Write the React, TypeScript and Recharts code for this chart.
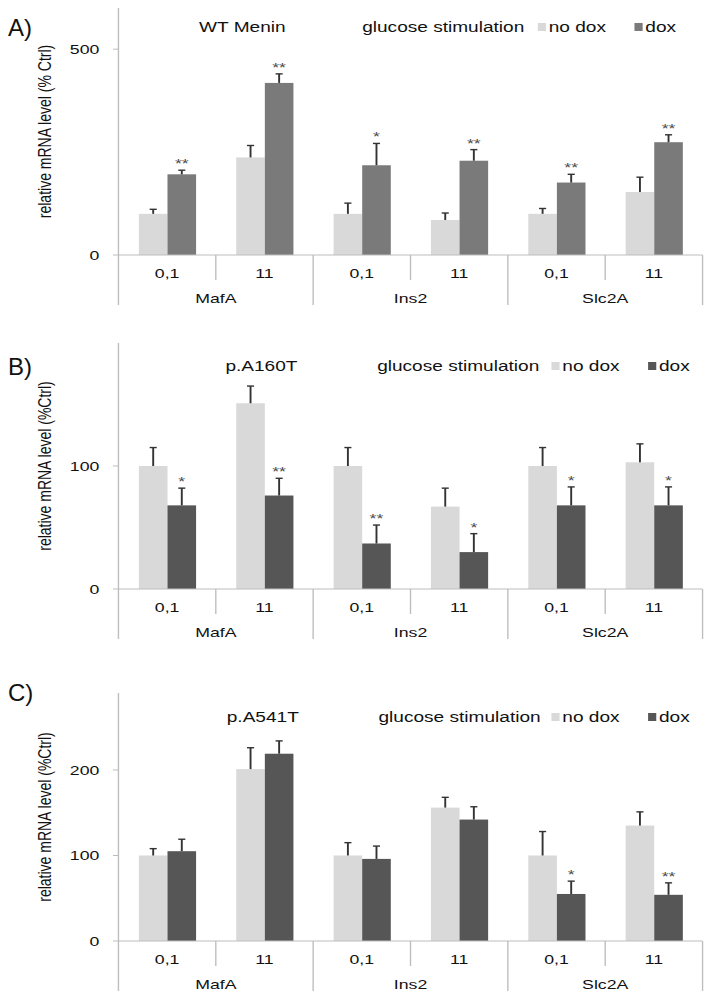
import React from "react";
import { Bar, BarChart, XAxis, YAxis } from "recharts";

// x-axis categories (two levels)
const subLabels = ["0,1", "11", "0,1", "11", "0,1", "11"];
const geneLabels = ["MafA", "Ins2", "Slc2A"];

// A) WT Menin
const noDoxA = [100, 237, 100, 85, 100, 153];
const noDoxErrA = [11, 29, 26, 17, 13, 36];
const doxA = [196, 418, 218, 229, 176, 274];
const doxErrA = [10, 22, 53, 27, 20, 18];
const starsA = ["**", "**", "*", "**", "**", "**"];

// B) p.A160T
const noDoxB = [100, 151, 100, 67, 100, 103];
const noDoxErrB = [15, 14, 15, 15, 15, 15];
const doxB = [68, 76, 37, 30, 68, 68];
const doxErrB = [14, 14, 15, 15, 15, 15];
const starsB = ["*", "**", "**", "*", "*", "*"];

// C) p.A541T
const noDoxC = [100, 201, 100, 156, 100, 135];
const noDoxErrC = [8, 25, 15, 12, 28, 16];
const doxC = [105, 219, 96, 142, 55, 54];
const doxErrC = [14, 15, 15, 15, 15, 14];
const starsC = ["", "", "", "", "*", "**"];

const FONT = "'Liberation Sans', Arial, sans-serif";
const AXIS = "#bdbdbd";
const NO_DOX = "#d9d9d9";

// the original figure is stretched horizontally; draw narrow, then scale
const CHART_W = 520;
const STRETCH = 708 / CHART_W;
const Y_AXIS_W = 87;
const RIGHT = 4;
const BAND = (CHART_W - Y_AXIS_W - RIGHT) / subLabels.length;

const buildRows = (
  noDox: number[],
  noDoxErr: number[],
  dox: number[],
  doxErr: number[],
  stars: string[]
) =>
  subLabels.map((s, i) => ({
    id: i,
    sub: s,
    noDox: noDox[i],
    noDoxErr: noDoxErr[i],
    dox: dox[i],
    doxErr: doxErr[i],
    stars: stars[i],
  }));

// bar with a plus-only error bar and significance stars
const barShape = (valueKey: string, errKey: string, starKey?: string) => (props: any) => {
  const { x, y, width, height, fill, payload } = props;
  const v = payload[valueKey];
  const ppu = v ? height / v : 0;
  const cx = x + width / 2;
  const top = y - payload[errKey] * ppu;
  const star = starKey ? payload[starKey] : "";
  return (
    <g>
      <rect x={x} y={y} width={width} height={height} fill={fill} />
      <line x1={cx} x2={cx} y1={y} y2={top} stroke="#333" strokeWidth={1.4} />
      <line x1={cx - 2.6} x2={cx + 2.6} y1={top} y2={top} stroke="#333" strokeWidth={1.4} />
      {star && (
        <text x={cx} y={top - 2} textAnchor="middle" fontSize={13} fill="#4a4a4a" fontFamily={FONT}>
          {star}
        </text>
      )}
    </g>
  );
};

const CategoryTick = (props: any) => {
  const { x, y, index } = props;
  const half = BAND / 2;
  const endOfGroup = index % 2 === 1;
  return (
    <g>
      <text x={x} y={y + 18} textAnchor="middle" dominantBaseline="central" fontSize={13} fill="#111" fontFamily={FONT}>
        {subLabels[index]}
      </text>
      <line x1={x + half} x2={x + half} y1={y} y2={y + (endOfGroup ? 50 : 25)} stroke={AXIS} />
      {index === 0 && <line x1={x - half} x2={x - half} y1={y} y2={y + 50} stroke={AXIS} />}
      {endOfGroup && (
        <text x={x - half} y={y + 43} textAnchor="middle" dominantBaseline="central" fontSize={13} fill="#111" fontFamily={FONT}>
          {geneLabels[(index - 1) / 2]}
        </text>
      )}
    </g>
  );
};

const yTitle = (text: string) => (props: any) => {
  const { viewBox } = props;
  const cx = viewBox.x + 33;
  const cy = viewBox.y + viewBox.height / 2;
  return (
    <text
      x={cx}
      y={cy}
      transform={`rotate(-90, ${cx}, ${cy})`}
      textAnchor="middle"
      dominantBaseline="central"
      fontSize={14}
      fill="#111"
      fontFamily={FONT}
    >
      {text}
    </text>
  );
};

type PanelProps = {
  rows: ReturnType<typeof buildRows>;
  top: number;
  height: number;
  margin: { top: number; right: number; bottom: number; left: number };
  domain: [number, number];
  ticks: number[];
  yLabel: string;
  doxColor: string;
};

const Panel = ({ rows, top, height, margin, domain, ticks, yLabel, doxColor }: PanelProps) => (
  <div style={{ position: "absolute", left: 0, top, width: CHART_W, height }}>
    <BarChart width={CHART_W} height={height} data={rows} margin={margin} barCategoryGap="21%" barGap={0}>
      <XAxis
        dataKey="id"
        height={50}
        axisLine={{ stroke: AXIS }}
        tickLine={false}
        tickSize={0}
        tickMargin={0}
        interval={0}
        tick={<CategoryTick />}
      />
      <YAxis
        width={Y_AXIS_W}
        domain={domain}
        ticks={ticks}
        allowDataOverflow
        axisLine={{ stroke: AXIS }}
        tickLine={{ stroke: AXIS }}
        tickSize={4}
        tickMargin={10}
        tick={{ fontSize: 13, fill: "#111", fontFamily: FONT }}
        label={yTitle(yLabel)}
      />
      <Bar dataKey="noDox" fill={NO_DOX} isAnimationActive={false} shape={barShape("noDox", "noDoxErr")} />
      <Bar dataKey="dox" fill={doxColor} isAnimationActive={false} shape={barShape("dox", "doxErr", "stars")} />
    </BarChart>
  </div>
);

type HeaderProps = {
  y: number;
  title: string;
  titleX: number;
  glucoseX: number;
  noDoxX: number;
  doxX: number;
  doxColor: string;
};

const Header = ({ y, title, titleX, glucoseX, noDoxX, doxX, doxColor }: HeaderProps) => {
  const txt = (left: number, s: string, center = false) => (
    <div
      style={{
        position: "absolute",
        top: y - 8,
        left: center ? left - 60 : left,
        width: center ? 120 : undefined,
        textAlign: center ? "center" : "left",
        fontFamily: FONT,
        fontSize: 14,
        lineHeight: "16px",
        color: "#111",
        whiteSpace: "nowrap",
      }}
    >
      {s}
    </div>
  );
  const sq = (left: number, color: string) => (
    <div style={{ position: "absolute", top: y - 4, left, width: 6, height: 8, background: color }} />
  );
  return (
    <>
      {txt(titleX, title, true)}
      {txt(glucoseX, "glucose stimulation")}
      {sq(noDoxX, NO_DOX)}
      {txt(noDoxX + 8, "no dox")}
      {sq(doxX, doxColor)}
      {txt(doxX + 8, "dox")}
    </>
  );
};

const PanelLetter = ({ y, text }: { y: number; text: string }) => (
  <div
    style={{
      position: "absolute",
      left: 8,
      top: y - 14,
      fontFamily: FONT,
      fontSize: 24,
      lineHeight: "28px",
      color: "#111",
    }}
  >
    {text}
  </div>
);

const App = () => {
  const rowsA = buildRows(noDoxA, noDoxErrA, doxA, doxErrA, starsA);
  const rowsB = buildRows(noDoxB, noDoxErrB, doxB, doxErrB, starsB);
  const rowsC = buildRows(noDoxC, noDoxErrC, doxC, doxErrC, starsC);

  return (
    <div style={{ position: "absolute", left: 0, top: 0, width: 708, height: 1002, background: "#fff", overflow: "hidden" }}>
      <div
        style={{
          position: "absolute",
          left: 0,
          top: 0,
          width: CHART_W,
          height: 1002,
          transform: `scaleX(${STRETCH})`,
          transformOrigin: "0 0",
        }}
      >
        <Panel
          rows={rowsA}
          top={0}
          height={335}
          margin={{ top: 8, right: RIGHT, bottom: 30, left: 0 }}
          domain={[0, 600]}
          ticks={[0, 500]}
          yLabel="relative mRNA level (% Ctrl)"
          doxColor="#7a7a7a"
        />
        <Header y={27} title="WT Menin" titleX={178} glucoseX={266} noDoxX={395} doxX={466} doxColor="#7a7a7a" />

        <Panel
          rows={rowsB}
          top={335}
          height={330}
          margin={{ top: 8, right: RIGHT, bottom: 26, left: 0 }}
          domain={[0, 200]}
          ticks={[0, 100]}
          yLabel="relative mRNA level (%Ctrl)"
          doxColor="#565656"
        />
        <Header y={366} title="p.A160T" titleX={192} glucoseX={277} noDoxX={405} doxX={476} doxColor="#565656" />

        <Panel
          rows={rowsC}
          top={665}
          height={337}
          margin={{ top: 28, right: RIGHT, bottom: 11, left: 0 }}
          domain={[0, 290]}
          ticks={[0, 100, 200]}
          yLabel="relative mRNA level (%Ctrl)"
          doxColor="#565656"
        />
        <Header y={717} title="p.A541T" titleX={193} glucoseX={278} noDoxX={405} doxX={476} doxColor="#565656" />
      </div>

      <PanelLetter y={28} text="A)" />
      <PanelLetter y={367} text="B)" />
      <PanelLetter y={693} text="C)" />
    </div>
  );
};

export default App;
